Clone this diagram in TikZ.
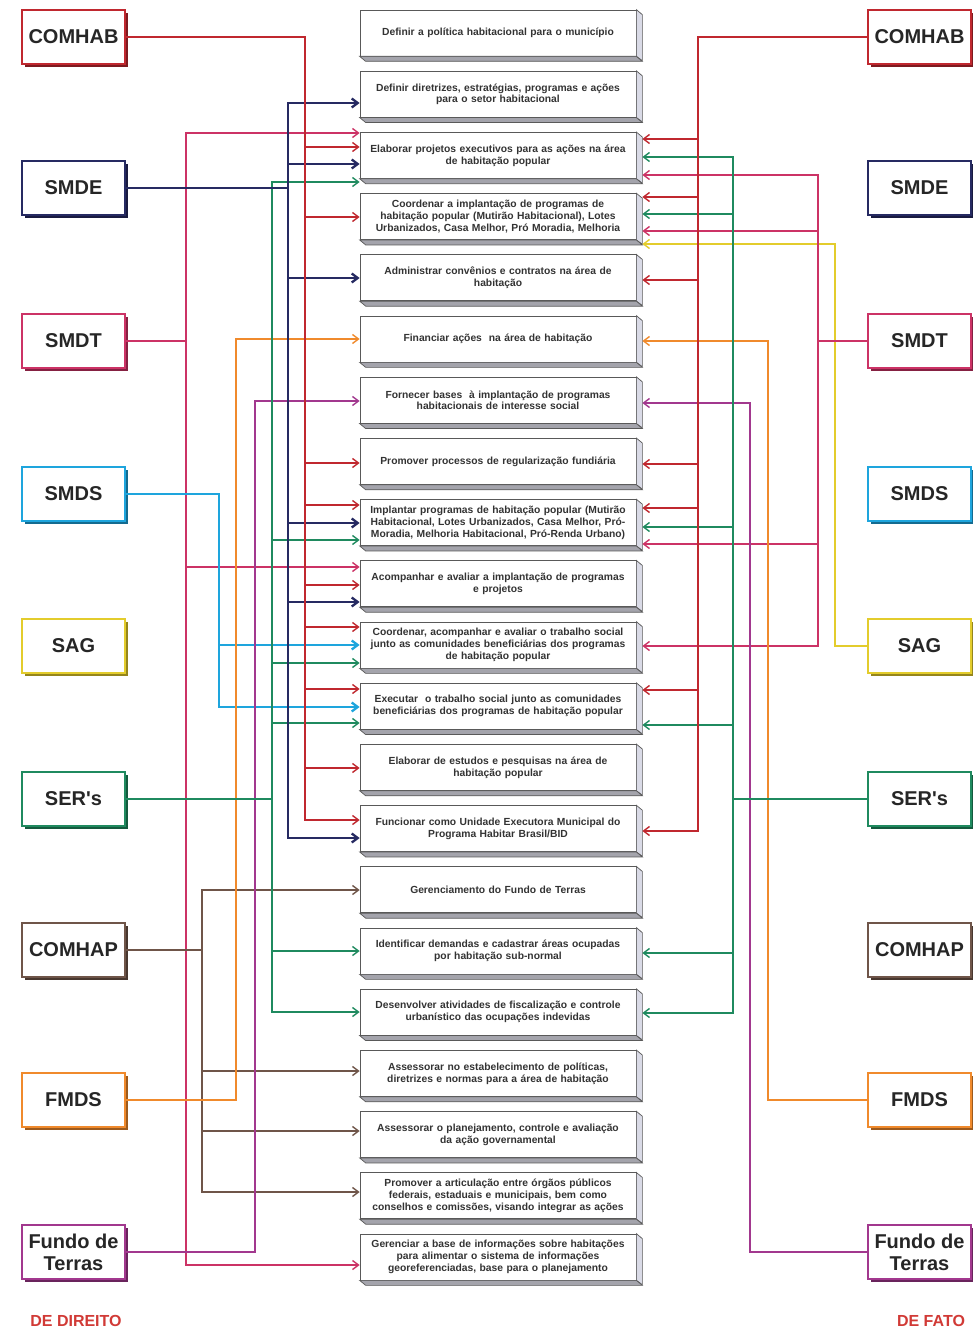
\documentclass[tikz,border=0pt]{standalone}
\usepackage{fontspec}
\setmainfont{Liberation Sans}
\usetikzlibrary{arrows.meta,shadows}
\definecolor{cRed}{HTML}{C0282F}
\definecolor{cNavy}{HTML}{262A62}
\definecolor{cPink}{HTML}{CC3366}
\definecolor{cCyan}{HTML}{1EA5DD}
\definecolor{cYellow}{HTML}{E3CC2C}
\definecolor{cGreen}{HTML}{1F8A5F}
\definecolor{cBrown}{HTML}{6F5549}
\definecolor{cOrange}{HTML}{F08A2C}
\definecolor{cPurple}{HTML}{A2388E}
\definecolor{cLabel}{HTML}{D13A36}
\definecolor{sideface}{HTML}{D9DAE6}
\definecolor{botface}{HTML}{A4A4AC}
\tikzset{
 conn/.style={line width=1.4pt},
 heavy/.style={line width=2.3pt},
 arr/.style={-{Straight Barb[length=6pt,width=9pt]}},
 arrb/.style={{Straight Barb[length=6pt,width=9pt]}-{Straight Barb[length=6pt,width=9pt]}},
 cbox/.style={draw=black!65, line width=0.7pt, fill=white, minimum width=276pt, minimum height=46pt, inner sep=0pt, text width=272pt, align=center, font=\bfseries\fontsize{10.3}{11.8}\selectfont, text=black!80},
 face/.style={draw=black!65, line width=0.7pt},
 ent/.style={draw=#1, line width=1.8pt, fill=white, minimum width=103pt, minimum height=54pt, inner sep=1pt, align=center, font=\bfseries\fontsize{20}{22}\selectfont, text=black!85, drop shadow={shadow xshift=3pt, shadow yshift=-3pt, fill=#1!65!black, opacity=1}},
 lab/.style={font=\bfseries\fontsize{16}{18}\selectfont, text=cLabel}
}
\newcommand\cbx[3]{%
 \pgfmathsetmacro\cbY{33+(#2-1)*61.2}
 \node[cbox] (#1) at (498,\cbY) {#3};
 \filldraw[face,fill=sideface] (#1.north east) -- ++(6,5) -- ++(0,46) -- (#1.south east) -- cycle;
 \filldraw[face,fill=botface] (#1.south west) -- (#1.south east) -- ++(6,5) -- ([xshift=6pt,yshift=-5pt]#1.south west) -- cycle;
 \coordinate (#1r) at ([xshift=6pt]#1.east);
}
% left arrow: colour, style, x, y, box
\newcommand\LA[5]{\draw[#1,#2,arr] (#3,#4) -- (#5.west |- #3,#4);}
\newcommand\RA[5]{\draw[#1,#2,arr] (#3,#4) -- (#5r |- #3,#4);}
\begin{document}
\begin{tikzpicture}[x=1pt,y=-1pt]
\useasboundingbox (0,0) rectangle (973,1340);
\fill[white] (0,0) rectangle (973,1340);

% ---- centre boxes
\cbx{b1}{1}{Definir a política habitacional para o município}
\cbx{b2}{2}{Definir diretrizes, estratégias, programas e ações\\para o setor habitacional}
\cbx{b3}{3}{Elaborar projetos executivos para as ações na área\\de habitação popular}
\cbx{b4}{4}{Coordenar a implantação de programas de\\habitação popular (Mutirão Habitacional), Lotes\\Urbanizados, Casa Melhor, Pró Moradia, Melhoria}
\cbx{b5}{5}{Administrar convênios e contratos na área de\\habitação}
\cbx{b6}{6}{Financiar ações\ \ na área de habitação}
\cbx{b7}{7}{Fornecer bases\ \ à implantação de programas\\habitacionais de interesse social}
\cbx{b8}{8}{Promover processos de regularização fundiária}
\cbx{b9}{9}{Implantar programas de habitação popular (Mutirão\\Habitacional, Lotes Urbanizados, Casa Melhor, Pró-\\Moradia, Melhoria Habitacional, Pró-Renda Urbano)}
\cbx{b10}{10}{Acompanhar e avaliar a implantação de programas\\e projetos}
\cbx{b11}{11}{Coordenar, acompanhar e avaliar o trabalho social\\junto as comunidades beneficiárias dos programas\\de habitação popular}
\cbx{b12}{12}{Executar\ \ o trabalho social junto as comunidades\\beneficiárias dos programas de habitação popular}
\cbx{b13}{13}{Elaborar de estudos e pesquisas na área de\\habitação popular}
\cbx{b14}{14}{Funcionar como Unidade Executora Municipal do\\Programa Habitar Brasil/BID}
\cbx{b15}{15}{Gerenciamento do Fundo de Terras}
\cbx{b16}{16}{Identificar demandas e cadastrar áreas ocupadas\\por habitação sub-normal}
\cbx{b17}{17}{Desenvolver atividades de fiscalização e controle\\urbanístico das ocupações indevidas}
\cbx{b18}{18}{Assessorar no estabelecimento de políticas,\\diretrizes e normas para a área de habitação}
\cbx{b19}{19}{Assessorar o planejamento, controle e avaliação\\da ação governamental}
\cbx{b20}{20}{Promover a articulação entre órgãos públicos\\federais, estaduais e municipais, bem como\\conselhos e comissões, visando integrar as ações}
\cbx{b21}{21}{Gerenciar a base de informações sobre habitações\\para alimentar o sistema de informações\\georeferenciadas, base para o planejamento}

% ---- entities, left (de direito)
\node[ent=cRed]    (lCOMHAB) at (73.5,37)   {COMHAB};
\node[ent=cNavy]   (lSMDE)   at (73.5,188)  {SMDE};
\node[ent=cPink]   (lSMDT)   at (73.5,341)  {SMDT};
\node[ent=cCyan]   (lSMDS)   at (73.5,494)  {SMDS};
\node[ent=cYellow] (lSAG)    at (73.5,646)  {SAG};
\node[ent=cGreen]  (lSER)    at (73.5,799)  {SER\textquotesingle s};
\node[ent=cBrown]  (lCOMHAP) at (73.5,950)  {COMHAP};
\node[ent=cOrange] (lFMDS)   at (73.5,1100) {FMDS};
\node[ent=cPurple] (lFundo)  at (73.5,1252) {Fundo de\\Terras};
% ---- entities, right (de fato)
\node[ent=cRed]    (rCOMHAB) at (919.5,37)   {COMHAB};
\node[ent=cNavy]   (rSMDE)   at (919.5,188)  {SMDE};
\node[ent=cPink]   (rSMDT)   at (919.5,341)  {SMDT};
\node[ent=cCyan]   (rSMDS)   at (919.5,494)  {SMDS};
\node[ent=cYellow] (rSAG)    at (919.5,646)  {SAG};
\node[ent=cGreen]  (rSER)    at (919.5,799)  {SER\textquotesingle s};
\node[ent=cBrown]  (rCOMHAP) at (919.5,950)  {COMHAP};
\node[ent=cOrange] (rFMDS)   at (919.5,1100) {FMDS};
\node[ent=cPurple] (rFundo)  at (919.5,1252) {Fundo de\\Terras};

\node[lab] (dd) at (76,1321) {DE DIREITO};
\node[lab] (df) at (931,1321) {DE FATO};

% ================= LEFT CONNECTORS
% SMDT (pink) x=186
\draw[cPink,conn] (lSMDT.east) -- (lSMDT.east -| 186,0);
\draw[cPink,conn,arrb] (b3.west |- 0,133) -- (186,133) -- (186,1265) -- (b21.west |- 0,1265);
\LA{cPink}{conn}{186}{567}{b10}
% COMHAP (brown) x=202
\draw[cBrown,conn] (lCOMHAP.east) -- (lCOMHAP.east -| 202,0);
\draw[cBrown,conn,arrb] (b15.west |- 0,890) -- (202,890) -- (202,1192) -- (b20.west |- 0,1192);
\LA{cBrown}{conn}{202}{1071}{b18}
\LA{cBrown}{conn}{202}{1131}{b19}
% SMDS (cyan) x=219
\draw[cCyan,heavy,arr] (lSMDS.east) -| (219,707) -- (b12.west |- 0,707);
\LA{cCyan}{heavy}{219}{645}{b11}
% FMDS (orange) x=236
\draw[cOrange,conn,arr] (lFMDS.east) -| (236,339) -- (b6.west |- 0,339);
% Fundo de Terras (purple) x=255
\draw[cPurple,conn,arr] (lFundo.east) -| (255,401) -- (b7.west |- 0,401);
% SER's (green) x=272
\draw[cGreen,conn] (lSER.east) -- (lSER.east -| 272,0);
\draw[cGreen,conn,arrb] (b3.west |- 0,182) -- (272,182) -- (272,1012) -- (b17.west |- 0,1012);
\LA{cGreen}{conn}{272}{540}{b9}
\LA{cGreen}{conn}{272}{663}{b11}
\LA{cGreen}{conn}{272}{723}{b12}
\LA{cGreen}{conn}{272}{951}{b16}
% SMDE (navy) x=288
\draw[cNavy,heavy] (lSMDE.east) -- (lSMDE.east -| 288,0);
\draw[cNavy,heavy,arrb] (b2.west |- 0,103) -- (288,103) -- (288,838) -- (b14.west |- 0,838);
\LA{cNavy}{heavy}{288}{164}{b3}
\LA{cNavy}{heavy}{288}{278}{b5}
\LA{cNavy}{heavy}{288}{523}{b9}
\LA{cNavy}{heavy}{288}{602}{b10}
% COMHAB (red) x=305
\draw[cRed,conn,arr] (lCOMHAB.east) -| (305,820) -- (b14.west |- 0,820);
\LA{cRed}{conn}{305}{147}{b3}
\LA{cRed}{conn}{305}{217}{b4}
\LA{cRed}{conn}{305}{463}{b8}
\LA{cRed}{conn}{305}{505}{b9}
\LA{cRed}{conn}{305}{585}{b10}
\LA{cRed}{conn}{305}{627}{b11}
\LA{cRed}{conn}{305}{689}{b12}
\LA{cRed}{conn}{305}{768}{b13}

% ================= RIGHT CONNECTORS
% SAG (yellow) x=835
\draw[cYellow,conn,arr] (rSAG.west) -| (835,244) -- (b4r |- 0,244);
% SMDT (pink) x=818
\draw[cPink,conn] (rSMDT.west) -- (rSMDT.west -| 818,0);
\draw[cPink,conn,arrb] (b3r |- 0,175) -- (818,175) -- (818,646) -- (b11r |- 0,646);
\RA{cPink}{conn}{818}{231}{b4}
\RA{cPink}{conn}{818}{544}{b9}
% FMDS (orange) x=768
\draw[cOrange,conn,arr] (rFMDS.west) -| (768,341) -- (b6r |- 0,341);
% Fundo de Terras (purple) x=750
\draw[cPurple,conn,arr] (rFundo.west) -| (750,403) -- (b7r |- 0,403);
% SER's (green) x=733
\draw[cGreen,conn] (rSER.west) -- (rSER.west -| 733,0);
\draw[cGreen,conn,arrb] (b3r |- 0,157) -- (733,157) -- (733,1013) -- (b17r |- 0,1013);
\RA{cGreen}{conn}{733}{214}{b4}
\RA{cGreen}{conn}{733}{527}{b9}
\RA{cGreen}{conn}{733}{725}{b12}
\RA{cGreen}{conn}{733}{953}{b16}
% COMHAB (red) x=698
\draw[cRed,conn,arr] (rCOMHAB.west) -| (698,831) -- (b14r |- 0,831);
\RA{cRed}{conn}{698}{139}{b3}
\RA{cRed}{conn}{698}{197}{b4}
\RA{cRed}{conn}{698}{280}{b5}
\RA{cRed}{conn}{698}{464}{b8}
\RA{cRed}{conn}{698}{508}{b9}
\RA{cRed}{conn}{698}{690}{b12}
\end{tikzpicture}
\end{document}
